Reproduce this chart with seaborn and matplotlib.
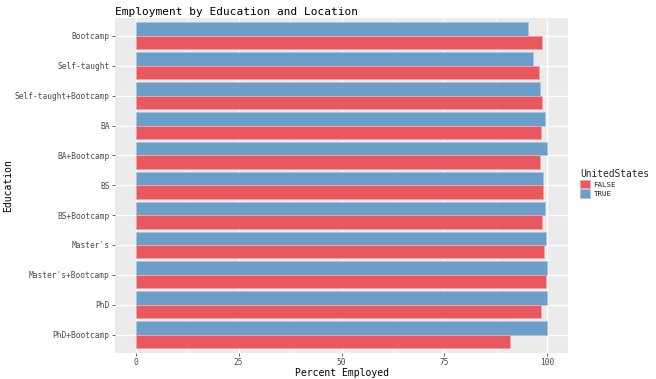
import pandas as pd
import matplotlib.pyplot as plt
import seaborn as sns
from matplotlib.patches import Patch

# --- dados ---
education = ["Bootcamp", "Self-taught", "Self-taught+Bootcamp", "BA", "BA+Bootcamp",
             "BS", "BS+Bootcamp", "Master's", "Master's+Bootcamp", "PhD", "PhD+Bootcamp"]
pct_us = [95.4, 96.4, 98.3, 99.3, 100.0, 99.0, 99.4, 99.7, 100.0, 100.0, 100.0]
pct_non_us = [98.8, 97.9, 98.6, 98.5, 98.3, 99.0, 98.6, 99.2, 99.7, 98.5, 90.9]
x_ticks = [0, 25, 50, 75, 100]

df = pd.DataFrame({
    'Education': education * 2,
    'Percent': pct_us + pct_non_us,
    'UnitedStates': ['TRUE'] * len(education) + ['FALSE'] * len(education),
})

colors = {'FALSE': '#E8585E', 'TRUE': '#6B9EC8'}
edges = {'FALSE': '#F2A3A6', 'TRUE': '#A8C7E0'}

sns.set_theme(style='darkgrid')
plt.rcParams['font.family'] = ['DejaVu Sans Mono']

fig = plt.figure(figsize=(6.56, 3.79), dpi=100)
ax = fig.add_axes([0.1753, 0.0699, 0.6906, 0.8826])
ax.set_facecolor('#EBEBEB')

sns.barplot(data=df, y='Education', x='Percent', hue='UnitedStates',
            order=education, hue_order=['TRUE', 'FALSE'], palette=colors,
            width=0.9, saturation=1, orient='h', ax=ax, legend=False)

for cont, key in zip(ax.containers, ['TRUE', 'FALSE']):
    for p in cont:
        p.set_edgecolor(edges[key])
        p.set_linewidth(0.7)

ax.set_xlim(-5, 105)
ax.set_ylim(len(education) - 0.4, -0.6)
ax.set_xticks(x_ticks)
ax.set_xticks([12.5, 37.5, 62.5, 87.5], minor=True)
ax.grid(True, which='major', color='white', linewidth=1.0)
ax.grid(True, which='minor', axis='x', color='white', linewidth=0.5)
ax.set_axisbelow(True)
for s in ax.spines.values():
    s.set_visible(False)

ax.tick_params(axis='both', which='major', labelsize=5.7, labelcolor='#4D4D4D',
               color='#4D4D4D', length=2.5, width=0.6, pad=1.5, bottom=True, left=True)
ax.tick_params(axis='both', which='minor', length=0)

ax.set_xlabel('Percent Employed', fontsize=7, color='black')
ax.set_ylabel('Education', fontsize=7, color='black')
ax.xaxis.set_label_coords(0.5, -0.046)
ax.yaxis.set_label_coords(-0.224, 0.5)
ax.set_title('Employment by Education and Location', fontsize=8, loc='left',
             color='black', pad=2)

handles = [Patch(facecolor=colors[k], edgecolor=edges[k], linewidth=0.7, label=k)
           for k in ['FALSE', 'TRUE']]
leg = fig.legend(handles=handles, title='UnitedStates', loc='upper left',
                 bbox_to_anchor=(0.876, 0.568), frameon=False, fontsize=5.4,
                 title_fontsize=6.9, handlelength=1.4, handleheight=1.4,
                 handletextpad=0.4, labelspacing=0.1, borderpad=0.2)
leg._legend_box.align = 'left'

fig.savefig('out.png', dpi=100)
